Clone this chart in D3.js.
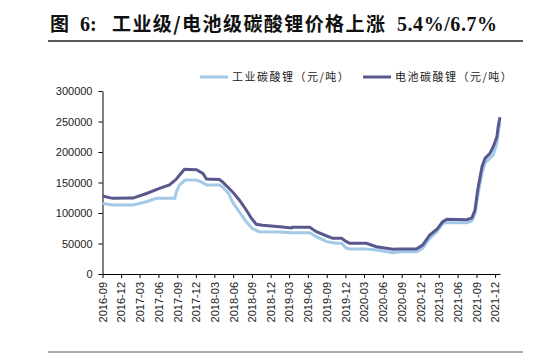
<!DOCTYPE html>
<html>
<head>
<meta charset="utf-8">
<script src="https://d3js.org/d3.v7.min.js"></script>
<style>
  body { margin: 0; background: #fff; }
  svg text { font-family: "Liberation Sans", Arial, sans-serif; }
</style>
</head>
<body>
<div id="chart"></div>
<script>
// series: industrial grade (light) and battery grade (dark), yuan/ton
var seriesNames = ["工业碳酸锂（元/吨）", "电池碳酸锂（元/吨）"];

var industrialDates = ["2016-09-01","2016-10-20","2017-01-28","2017-04-04","2017-05-20","2017-08-20","2017-08-28","2017-09-12","2017-10-10","2017-12-04","2018-01-04","2018-01-22","2018-03-25","2018-04-09","2018-05-10","2018-05-28","2018-07-01","2018-08-04","2018-09-01","2018-10-05","2019-01-15","2019-03-15","2019-06-10","2019-07-12","2019-09-01","2019-10-15","2019-11-12","2019-12-06","2019-12-22","2020-03-12","2020-05-01","2020-07-20","2020-08-22","2020-11-12","2020-12-12","2021-01-16","2021-02-20","2021-03-20","2021-04-10","2021-07-16","2021-08-10","2021-08-25","2021-09-07","2021-09-28","2021-10-13","2021-11-06","2021-11-22","2021-12-10","2021-12-16","2021-12-25"];
var industrialValues = [115500,113000,113000,118500,124000,124000,135000,146000,154000,154000,149700,146000,146000,143000,132000,118500,102000,85700,75000,69400,69000,67700,67700,61100,53000,50300,50300,42100,41000,41000,39300,34900,36500,36500,42100,58500,69400,83100,84100,84000,87000,99500,128000,165000,182000,190000,195000,215000,232000,249000];

var batteryDates = ["2016-09-01","2016-10-20","2017-01-28","2017-04-04","2017-06-06","2017-07-25","2017-08-28","2017-09-12","2017-10-06","2017-12-04","2018-01-04","2018-01-22","2018-03-25","2018-04-09","2018-05-04","2018-05-28","2018-07-01","2018-08-04","2018-08-28","2018-09-22","2018-10-22","2019-01-15","2019-03-12","2019-03-15","2019-06-10","2019-07-12","2019-09-01","2019-10-01","2019-11-12","2019-12-06","2019-12-22","2020-03-12","2020-05-01","2020-07-20","2020-08-22","2020-11-12","2020-12-12","2021-01-16","2021-02-20","2021-03-20","2021-04-10","2021-07-16","2021-08-10","2021-08-25","2021-09-07","2021-09-28","2021-10-13","2021-11-06","2021-11-22","2021-12-10","2021-12-16","2021-12-25"];
var batteryValues = [128000,124000,124500,132000,140500,146000,155700,162000,171600,171000,165000,155700,155000,151300,143000,135000,121300,105000,91800,81400,79800,77600,75500,76500,76500,69400,62300,58500,58500,53000,50300,50300,44800,40500,41000,41000,47500,64000,73300,85700,89600,89000,92000,105000,137700,176000,189600,197800,208700,225000,241500,256900];

var yTicks = [0, 50000, 100000, 150000, 200000, 250000, 300000];
var xTickLabels = ["2016-09","2016-12","2017-03","2017-06","2017-09","2017-12","2018-03","2018-06","2018-09","2018-12","2019-03","2019-06","2019-09","2019-12","2020-03","2020-06","2020-09","2020-12","2021-03","2021-06","2021-09","2021-12"];

var W = 557, H = 363;
var parse = d3.timeParse("%Y-%m-%d");
var parseM = d3.timeParse("%Y-%m");

var svg = d3.select("#chart").append("svg")
  .attr("width", W).attr("height", H);

// title, set piece by piece to follow the wide spacing of the original
var title = svg.append("text")
  .attr("y", 31)
  .style("font-family", "'Liberation Serif', 'Noto Sans CJK SC', serif")
  .style("font-size", "19px")
  .style("font-weight", "bold")
  .attr("fill", "#111");
title.append("tspan").attr("x", 50).text("图");
title.append("tspan").attr("x", 80).style("font-size", "20px").style("font-weight", "bold").text("6:");
title.append("tspan").attr("x", 112)
  .style("font-family", "'Noto Sans CJK SC', sans-serif")
  .attr("textLength", 273).attr("lengthAdjust", "spacing")
  .text("工业级/电池级碳酸锂价格上涨");
title.append("tspan").attr("x", 397)
  .style("font-family", "'Liberation Serif', serif")
  .style("font-size", "20px").style("font-weight", "bold")
  .attr("textLength", 100).attr("lengthAdjust", "spacing")
  .text("5.4%/6.7%");

svg.append("line").attr("x1", 48).attr("x2", 523).attr("y1", 41).attr("y2", 41)
  .attr("stroke", "#222").attr("stroke-width", 1.3);
svg.append("line").attr("x1", 48).attr("x2", 523).attr("y1", 352).attr("y2", 352)
  .attr("stroke", "#555").attr("stroke-width", 1);

var x = d3.scaleTime()
  .domain([parse("2016-09-01"), parse("2021-12-25")])
  .range([102.5, 500]);
var y = d3.scaleLinear().domain([0, 300000]).range([274, 91]);

// y axis
var yAxis = svg.append("g")
  .attr("transform", "translate(102.5,0)")
  .call(d3.axisLeft(y).tickValues(yTicks).tickSize(4).tickSizeOuter(0).tickFormat(d3.format("d")));
yAxis.selectAll("text").style("font-size", "11px").attr("fill", "#222").attr("x", -10);
yAxis.selectAll("line, path").attr("stroke", "#000");

// x axis
var xAxis = svg.append("g")
  .attr("transform", "translate(0,274)")
  .call(d3.axisBottom(x).tickValues(xTickLabels.map(parseM)).tickSize(4).tickSizeOuter(0)
    .tickFormat(d3.timeFormat("%Y-%m")));
xAxis.selectAll("line, path").attr("stroke", "#000");
xAxis.selectAll("text")
  .style("font-size", "11px").attr("fill", "#222")
  .attr("transform", "rotate(-90)")
  .attr("x", -8).attr("y", 0).attr("dy", "0.35em")
  .style("text-anchor", "end");

var line = d3.line()
  .x(function(d) { return x(d.date) })
  .y(function(d) { return y(d.value) });

var industrial = industrialDates.map(function(d, i) { return {date: parse(d), value: industrialValues[i]} });
var battery = batteryDates.map(function(d, i) { return {date: parse(d), value: batteryValues[i]} });

svg.append("path").datum(industrial)
  .attr("fill", "none").attr("stroke", "#a3c9e8").attr("stroke-width", 3)
  .attr("d", line);
svg.append("path").datum(battery)
  .attr("fill", "none").attr("stroke", "#58588f").attr("stroke-width", 3)
  .attr("d", line);

// legend
var legend = [{name: seriesNames[0], color: "#a3c9e8", x: 200}, {name: seriesNames[1], color: "#58588f", x: 363}];
legend.forEach(function(l) {
  svg.append("line").attr("x1", l.x).attr("x2", l.x + 28).attr("y1", 77).attr("y2", 77)
    .attr("stroke", l.color).attr("stroke-width", 3);
  svg.append("text").attr("x", l.x + 32).attr("y", 81)
    .style("font-family", "'Noto Sans CJK SC', sans-serif")
    .style("font-size", "11px").style("letter-spacing", "1.5px")
    .attr("fill", "#222").text(l.name);
});
</script>
</body>
</html>
